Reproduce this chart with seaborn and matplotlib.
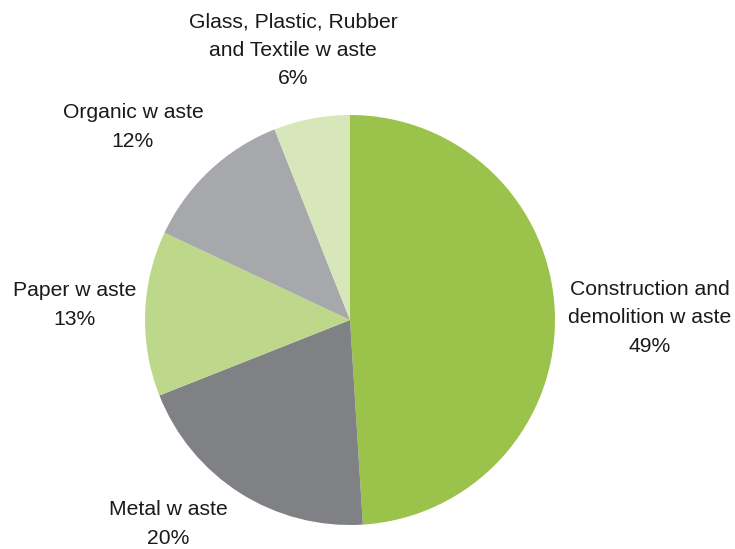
import numpy as np
import matplotlib
matplotlib.use("Agg")
import matplotlib.pyplot as plt
import seaborn as sns

categories = [
    "Construction and\ndemolition w aste",
    "Metal w aste",
    "Paper w aste",
    "Organic w aste",
    "Glass, Plastic, Rubber\nand Textile w aste",
]
shares = [49, 20, 13, 12, 6]
colors = ["#9BC24B", "#808184", "#BDD88B", "#A6A8AB", "#D8E7BA"]

# label anchor points, in units of the pie radius
label_x = [1.463, -0.888, -1.345, -1.059, -0.278]
label_y = [0.010, -0.995, 0.073, 0.941, 1.317]

sns.set_style("white")
plt.rcParams["font.family"] = ["Liberation Sans", "DejaVu Sans"]

fig = plt.figure(figsize=(7.35, 5.49), dpi=100)
ax = fig.add_axes([145 / 735, 24 / 549, 410 / 735, 410 / 549])

wedges, _ = ax.pie(
    shares,
    colors=colors,
    startangle=90,
    counterclock=False,
    radius=1.0,
    wedgeprops=dict(linewidth=0),
)

for name, val, x, y in zip(categories, shares, label_x, label_y):
    ax.text(x, y, f"{name}\n{val}%",
            ha="center", va="center", fontsize=15.2, color="#1a1a1a",
            linespacing=1.62, clip_on=False)

ax.set_xlim(-1, 1)
ax.set_ylim(-1, 1)
ax.set_aspect("equal")
ax.axis("off")

fig.savefig("out.png", dpi=100)
